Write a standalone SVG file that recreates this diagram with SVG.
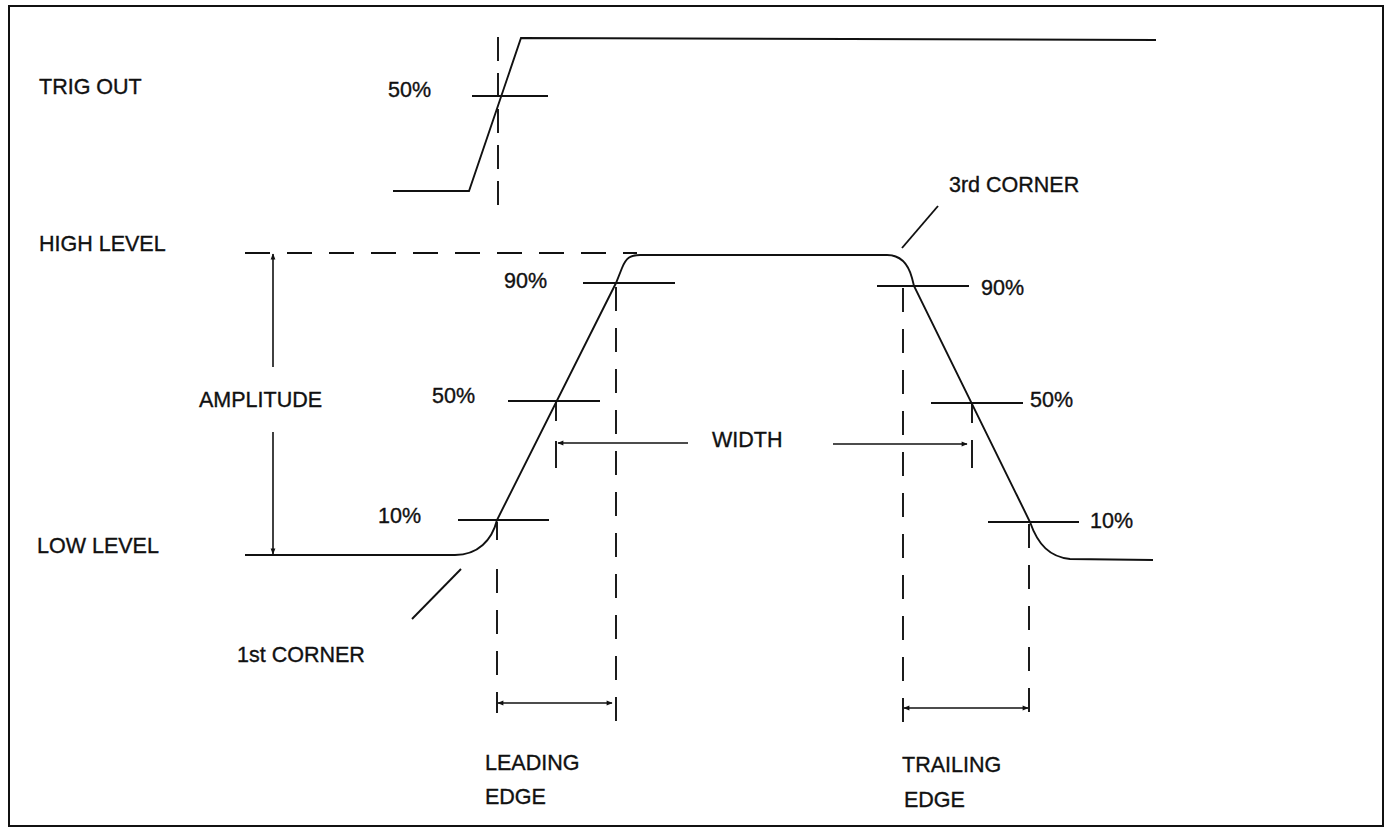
<svg xmlns="http://www.w3.org/2000/svg" width="1388" height="831" viewBox="0 0 1388 831">
<defs>
<style>
.t{font-family:"Liberation Sans",Arial,sans-serif;font-size:21.5px;fill:#111;stroke:#111;stroke-width:0.35}
.s{fill:none;stroke:#111;stroke-width:1.9}
.d{fill:none;stroke:#111;stroke-width:1.9;stroke-dasharray:24 17}
.a{fill:none;stroke:#111;stroke-width:1.6}
</style>
<marker id="ah" viewBox="0 0 10 10" refX="9" refY="5" markerWidth="7" markerHeight="6" markerUnits="userSpaceOnUse" orient="auto-start-reverse">
<path d="M0,1 L10,5 L0,9 Z" fill="#111"/>
</marker>
</defs>
<rect x="0" y="0" width="1388" height="831" fill="#fff"/>
<rect id="frame" x="9" y="6" width="1374" height="820" fill="none" stroke="#111" stroke-width="2"/>

<g id="trig-out">
<path class="s" d="M393,191 L469,191 L521,38 L1156,40"/>
<line class="s" x1="472" y1="96" x2="548" y2="96"/>
<line class="d" x1="498" y1="37" x2="498" y2="207" style="stroke-dasharray:24 12"/>
<text class="t" x="39" y="94">TRIG OUT</text>
<text class="t" x="388" y="97">50%</text>
</g>

<g id="pulse">
<path class="s" d="M245,555 L455,555 C478,555 492,540 497,520 L616,283 L622,268 C626,258 630,255 640,255 L887,255 C900,255 908,263 912,278 L914,286 L1030,522 C1038,545 1050,557 1070,559 L1153,560"/>
</g>

<g id="levels">
<line class="d" x1="245" y1="253" x2="637" y2="253" style="stroke-dasharray:25 17"/>
<text class="t" x="39" y="251">HIGH LEVEL</text>
<text class="t" x="37" y="553">LOW LEVEL</text>
</g>

<g id="amplitude">
<text class="t" x="199" y="407">AMPLITUDE</text>
</g>

<g id="leading-marks">
<line class="s" x1="458" y1="520" x2="549" y2="520"/>
<line class="s" x1="508" y1="401" x2="600" y2="401"/>
<line class="s" x1="583" y1="283" x2="675" y2="283"/>
<line class="s" x1="556" y1="401" x2="556" y2="421"/>
<line class="s" x1="556" y1="441" x2="556" y2="468"/>
<text class="t" x="378" y="523">10%</text>
<text class="t" x="432" y="403">50%</text>
<text class="t" x="504" y="288">90%</text>
</g>

<g id="trailing-marks">
<line class="s" x1="877" y1="286" x2="969" y2="286"/>
<line class="s" x1="931" y1="403" x2="1023" y2="403"/>
<line class="s" x1="988" y1="522" x2="1079" y2="522"/>
<line class="s" x1="972" y1="403" x2="972" y2="423"/>
<line class="s" x1="972" y1="440" x2="972" y2="468"/>
<text class="t" x="981" y="295">90%</text>
<text class="t" x="1030" y="407">50%</text>
<text class="t" x="1090" y="528">10%</text>
</g>

<g id="corners">
<line class="s" x1="461" y1="569" x2="412" y2="619"/>
<text class="t" x="237" y="662">1st CORNER</text>
<line class="s" x1="902" y1="248" x2="938" y2="206"/>
<text class="t" x="949" y="192">3rd CORNER</text>
</g>

<g id="width">
<text class="t" x="712" y="447">WIDTH</text>
</g>

<g id="leading-edge">
<text class="t" x="485" y="770">LEADING</text>
<text class="t" x="485" y="804">EDGE</text>
</g>

<g id="trailing-edge">
<text class="t" x="902" y="772">TRAILING</text>
<text class="t" x="904" y="807">EDGE</text>
</g>

<g id="connectors">
<line class="d" x1="497" y1="522" x2="497" y2="713" style="stroke-dasharray:18 29 24 17 24 17 24 17 24"/>
<line class="d" x1="616" y1="287" x2="616" y2="722"/>
<line class="d" x1="903" y1="288" x2="903" y2="722"/>
<line class="d" x1="1029" y1="524" x2="1029" y2="717"/>
<line class="a" x1="273" y1="367" x2="273" y2="254" marker-end="url(#ah)"/>
<line class="a" x1="273" y1="432" x2="273" y2="554" marker-end="url(#ah)"/>
<line class="a" x1="688" y1="443" x2="558" y2="443" marker-end="url(#ah)"/>
<line class="a" x1="833" y1="444" x2="967" y2="444" marker-end="url(#ah)"/>
<line class="a" x1="498" y1="703" x2="612" y2="703" marker-start="url(#ah)" marker-end="url(#ah)"/>
<line class="a" x1="904" y1="708" x2="1028" y2="708" marker-start="url(#ah)" marker-end="url(#ah)"/>
</g>
</svg>
